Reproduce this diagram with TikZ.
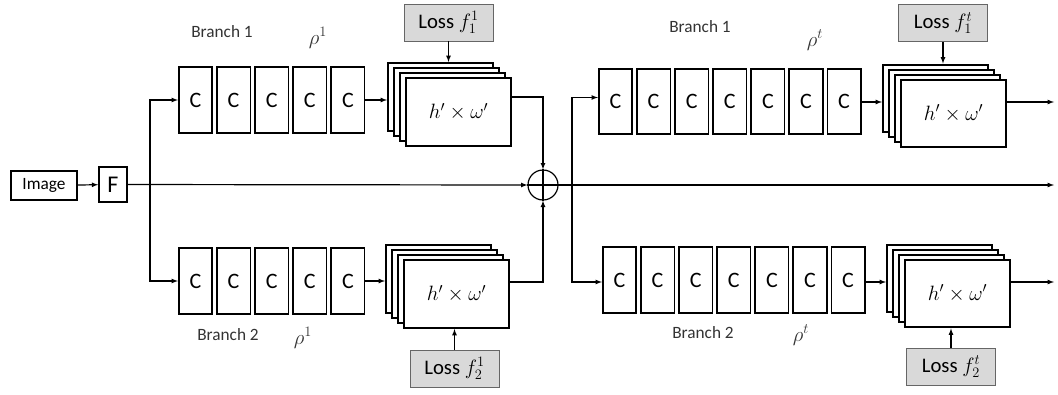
\documentclass[tikz,border=0pt]{standalone}
\usepackage{fontspec}
\setmainfont{Carlito}
\usetikzlibrary{positioning}

\tikzset{
  conv/.style={draw, line width=1.6pt, minimum width=33.5pt, minimum height=65.5pt, inner sep=0pt, font=\fontsize{22}{24}\selectfont},
  fmap/.style={draw, fill=white, line width=2.4pt, minimum width=104.5pt, minimum height=67.5pt, inner sep=0pt, font=\fontsize{20.74}{25}\selectfont},
  lossbox/.style={draw=black!60, fill=black!15, line width=0.8pt, minimum width=89pt, minimum height=37pt, inner sep=0pt, font=\fontsize{20.74}{24}\selectfont},
  inbox/.style={draw, line width=1.6pt, inner sep=0pt},
  lbl/.style={font=\fontsize{17.28}{19}\selectfont, text=black!80},
  rholbl/.style={font=\fontsize{20.74}{22}\selectfont, text=black!80},
  wire/.style={line width=1.2pt},
}

\begin{document}
\begin{tikzpicture}[x=1pt, y=-1pt, >=latex]
  \useasboundingbox (0,0) rectangle (1058,394);

  % input
  \node[inbox, minimum width=66pt, minimum height=29pt, font=\fontsize{17.28}{19}\selectfont] (img) at (44,185.5) {Image};
  \node[inbox, minimum width=28pt, minimum height=35pt, font=\fontsize{24}{26}\selectfont] (feat) at (113,184.5) {F};
  \draw[wire, ->] (img) -- (feat);

  % first stage, branch 1
  \node[conv] (a1) at (195.5,100) {C};
  \foreach \i [count=\j from 2] in {1,...,4}
    \node[conv, right=3pt of a\i] (a\j) {C};
  \foreach \k in {3,2,1}
    \node[fmap] (fa-\k) at ([xshift=-6*\k pt, yshift=5*\k pt]458.5,112) {};
  \node[fmap] (fa) at (458.5,112) {$h'\times\omega'$};
  \node[lossbox] (la) at (448.5,22.5) {Loss $f_1^1$};

  % first stage, branch 2
  \node[conv] (b1) at (195.5,281) {C};
  \foreach \i [count=\j from 2] in {1,...,4}
    \node[conv, right=3pt of b\i] (b\j) {C};
  \foreach \k in {3,2,1}
    \node[fmap] (fb-\k) at ([xshift=-6*\k pt, yshift=5*\k pt]456.5,294) {};
  \node[fmap] (fb) at (456.5,294) {$h'\times\omega'$};
  \node[lossbox] (lb) at (454.5,368.5) {Loss $f_2^1$};

  % sum
  \node[draw, circle, line width=1.2pt, minimum size=30pt, inner sep=0pt] (sum) at (543,185) {};

  % second stage, branch 1
  \node[conv] (r1) at (615.5,101.5) {C};
  \foreach \i [count=\j from 2] in {1,...,6}
    \node[conv, right=3pt of r\i] (r\j) {C};
  \foreach \k in {3,2,1}
    \node[fmap] (fr-\k) at ([xshift=-6*\k pt, yshift=5*\k pt]953.5,113.5) {};
  \node[fmap] (fr) at (953.5,113.5) {$h'\times\omega'$};
  \node[lossbox] (lr) at (943,23) {Loss $f_1^t$};

  % second stage, branch 2
  \node[conv] (s1) at (619.5,280) {C};
  \foreach \i [count=\j from 2] in {1,...,6}
    \node[conv, right=3pt of s\i] (s\j) {C};
  \foreach \k in {3,2,1}
    \node[fmap] (fs-\k) at ([xshift=-6*\k pt, yshift=5*\k pt]957.5,293.5) {};
  \node[fmap] (fs) at (957.5,293.5) {$h'\times\omega'$};
  \node[lossbox] (ls) at (951,366.5) {Loss $f_2^t$};

  % labels
  \node[lbl] (t1) at (222,32) {Branch 1};
  \node[rholbl] (p1) at (318,38) {$\rho^1$};
  \node[lbl] (t2) at (228,335) {Branch 2};
  \node[rholbl] (p2) at (303,338) {$\rho^1$};
  \node[lbl] (t3) at (700,27) {Branch 1};
  \node[rholbl] (p3) at (815,40) {$\rho^t$};
  \node[lbl] (t4) at (703,333) {Branch 2};
  \node[rholbl] (p4) at (801,335) {$\rho^t$};

  % wiring
  \coordinate (split) at (150,185);
  \coordinate (split2) at (572,185);
  \coordinate (out0) at (1054,185);
  \coordinate (out1) at (1054,102);
  \coordinate (out2) at (1054,282);

  \draw[wire, ->] (feat) -- (sum.west);
  \draw[wire, ->] (split) |- (a1.west);
  \draw[wire, ->] (split) |- (b1.west);
  \draw[wire, ->] (a5.east) -- (fa-3.west |- a5.east);
  \draw[wire, ->] (b5.east) -- (fb-3.west |- b5.east);
  \draw[wire, ->] (la.south) -- (la.south |- fa-3.north);
  \draw[wire, ->] (lb.north) -- (lb.north |- fb.south);
  \draw[wire, ->] ([yshift=15pt]fa.east) -| (sum.north);
  \draw[wire, ->] ([yshift=12pt]fb.east) -| (sum.south);
  \draw[wire] (sum.north) -- (sum.south);
  \draw[wire, ->] (sum.west) -- (out0);

  \draw[wire, ->] (split2) |- ([yshift=4pt]r1.west);
  \draw[wire, ->] (split2) |- ([yshift=-2pt]s1.west);
  \draw[wire, ->] ([yshift=-0.5pt]r7.east) -- (fr-3.west |- out1);
  \draw[wire, ->] ([yshift=-2pt]s7.east) -- (fs-3.west |- out2);
  \draw[wire, ->] (lr.south) -- (lr.south |- fr-3.north);
  \draw[wire, ->] (ls.north) -- (ls.north |- fs.south);
  \draw[wire, ->] (fr.east |- out1) -- (out1);
  \draw[wire, ->] (fs.east |- out2) -- (out2);
\end{tikzpicture}
\end{document}
